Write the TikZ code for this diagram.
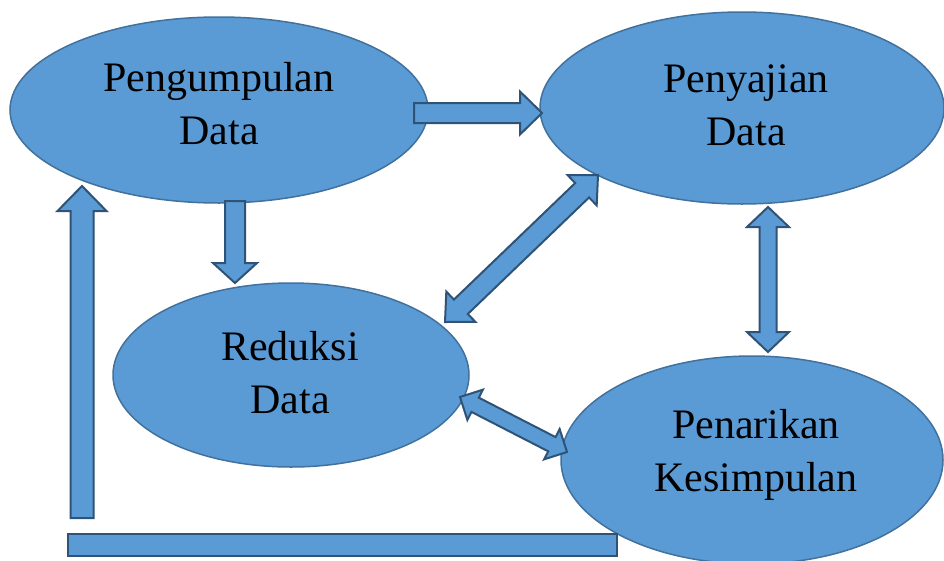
\documentclass[tikz,border=0pt]{standalone}
\usepackage{fontspec}
\setmainfont{Liberation Serif}
\usetikzlibrary{shapes.geometric,calc}
\definecolor{fillc}{HTML}{5B9BD5}
\definecolor{ellc}{HTML}{41719C}
\definecolor{arrc}{HTML}{2F5377}
\tikzset{
  ell/.style={ellipse, draw=ellc, line width=1.5pt, fill=fillc, inner sep=0pt},
  txt/.style={anchor=base, text=black, inner sep=0pt, font=\fontsize{42}{53}\selectfont},
  blk/.style={draw=arrc, fill=fillc, line width=2pt, line join=miter, miter limit=10},
  sarrow/.style n args={3}{blk, to path={
    let \p1=(\tikztostart), \p2=(\tikztotarget),
        \n1={veclen(\x2-\x1,\y2-\y1)},
        \n2={(\x2-\x1)/\n1}, \n3={(\y2-\y1)/\n1} in
    ({\x1-#1*\n3},{\y1+#1*\n2})
    -- ({\x1+(\n1-#3)*\n2-#1*\n3},{\y1+(\n1-#3)*\n3+#1*\n2})
    -- ({\x1+(\n1-#3)*\n2-#2*\n3},{\y1+(\n1-#3)*\n3+#2*\n2})
    -- (\p2)
    -- ({\x1+(\n1-#3)*\n2+#2*\n3},{\y1+(\n1-#3)*\n3-#2*\n2})
    -- ({\x1+(\n1-#3)*\n2+#1*\n3},{\y1+(\n1-#3)*\n3-#1*\n2})
    -- ({\x1+#1*\n3},{\y1-#1*\n2})
    -- cycle}},
  darrow/.style n args={3}{blk, to path={
    let \p1=(\tikztostart), \p2=(\tikztotarget),
        \n1={veclen(\x2-\x1,\y2-\y1)},
        \n2={(\x2-\x1)/\n1}, \n3={(\y2-\y1)/\n1} in
    (\p1)
    -- ({\x1+#3*\n2-#2*\n3},{\y1+#3*\n3+#2*\n2})
    -- ({\x1+#3*\n2-#1*\n3},{\y1+#3*\n3+#1*\n2})
    -- ({\x1+(\n1-#3)*\n2-#1*\n3},{\y1+(\n1-#3)*\n3+#1*\n2})
    -- ({\x1+(\n1-#3)*\n2-#2*\n3},{\y1+(\n1-#3)*\n3+#2*\n2})
    -- (\p2)
    -- ({\x1+(\n1-#3)*\n2+#2*\n3},{\y1+(\n1-#3)*\n3-#2*\n2})
    -- ({\x1+(\n1-#3)*\n2+#1*\n3},{\y1+(\n1-#3)*\n3-#1*\n2})
    -- ({\x1+#3*\n2+#1*\n3},{\y1+#3*\n3-#1*\n2})
    -- ({\x1+#3*\n2+#2*\n3},{\y1+#3*\n3-#2*\n2})
    -- cycle}}
}
\begin{document}
\begin{tikzpicture}[x=1pt,y=-1pt]
\useasboundingbox (0,0) rectangle (944,560);
\clip (0,0) rectangle (944,560);
\fill[white] (0,0) rectangle (944,560);
% ellipses
\node[ell, minimum width=418pt, minimum height=186pt] (pd) at (219,110) {};
\node[ell, minimum width=404pt, minimum height=192pt] (ps) at (742,108) {};
\node[ell, minimum width=356pt, minimum height=184pt] (rd) at (291,375) {};
\node[ell, minimum width=382pt, minimum height=208pt] (pk) at (752,460) {};
% arrow end points
\coordinate (a1s) at (414,113); \coordinate (a1e) at (542,113);
\coordinate (a2s) at (235,201); \coordinate (a2e) at (235,283);
\coordinate (a3s) at (598,175); \coordinate (a3e) at (445,322);
\coordinate (a4s) at (768,207); \coordinate (a4e) at (768,352);
\coordinate (a5s) at (460,397); \coordinate (a5e) at (567,452);
\coordinate (a6s) at (82,518);  \coordinate (a6e) at (82,186);
\coordinate (b1) at (68,534);   \coordinate (b2) at (617,556);
% block arrows
\draw[sarrow={10}{21.5}{22}] (a1s) to (a1e);
\draw[sarrow={10}{22}{20}] (a2s) to (a2e);
\draw[darrow={10}{21}{22}] (a3s) to (a3e);
\draw[darrow={8.5}{21}{20}] (a4s) to (a4e);
\draw[darrow={8}{17}{17}] (a5s) to (a5e);
\draw[sarrow={11.5}{24.5}{25}] (a6s) to (a6e);
\draw[blk] (b1) rectangle (b2);
% texts
\node[txt] (pdt) at (219,91) {\begin{tabular}[t]{@{}c@{}}Pengumpulan\\Data\end{tabular}};
\node[txt] (pst) at (746,92) {\begin{tabular}[t]{@{}c@{}}Penyajian\\Data\end{tabular}};
\node[txt] (rdt) at (290,360) {\begin{tabular}[t]{@{}c@{}}Reduksi\\Data\end{tabular}};
\node[txt] (pkt) at (756,438) {\begin{tabular}[t]{@{}c@{}}Penarikan\\Kesimpulan\end{tabular}};
\end{tikzpicture}
\end{document}
